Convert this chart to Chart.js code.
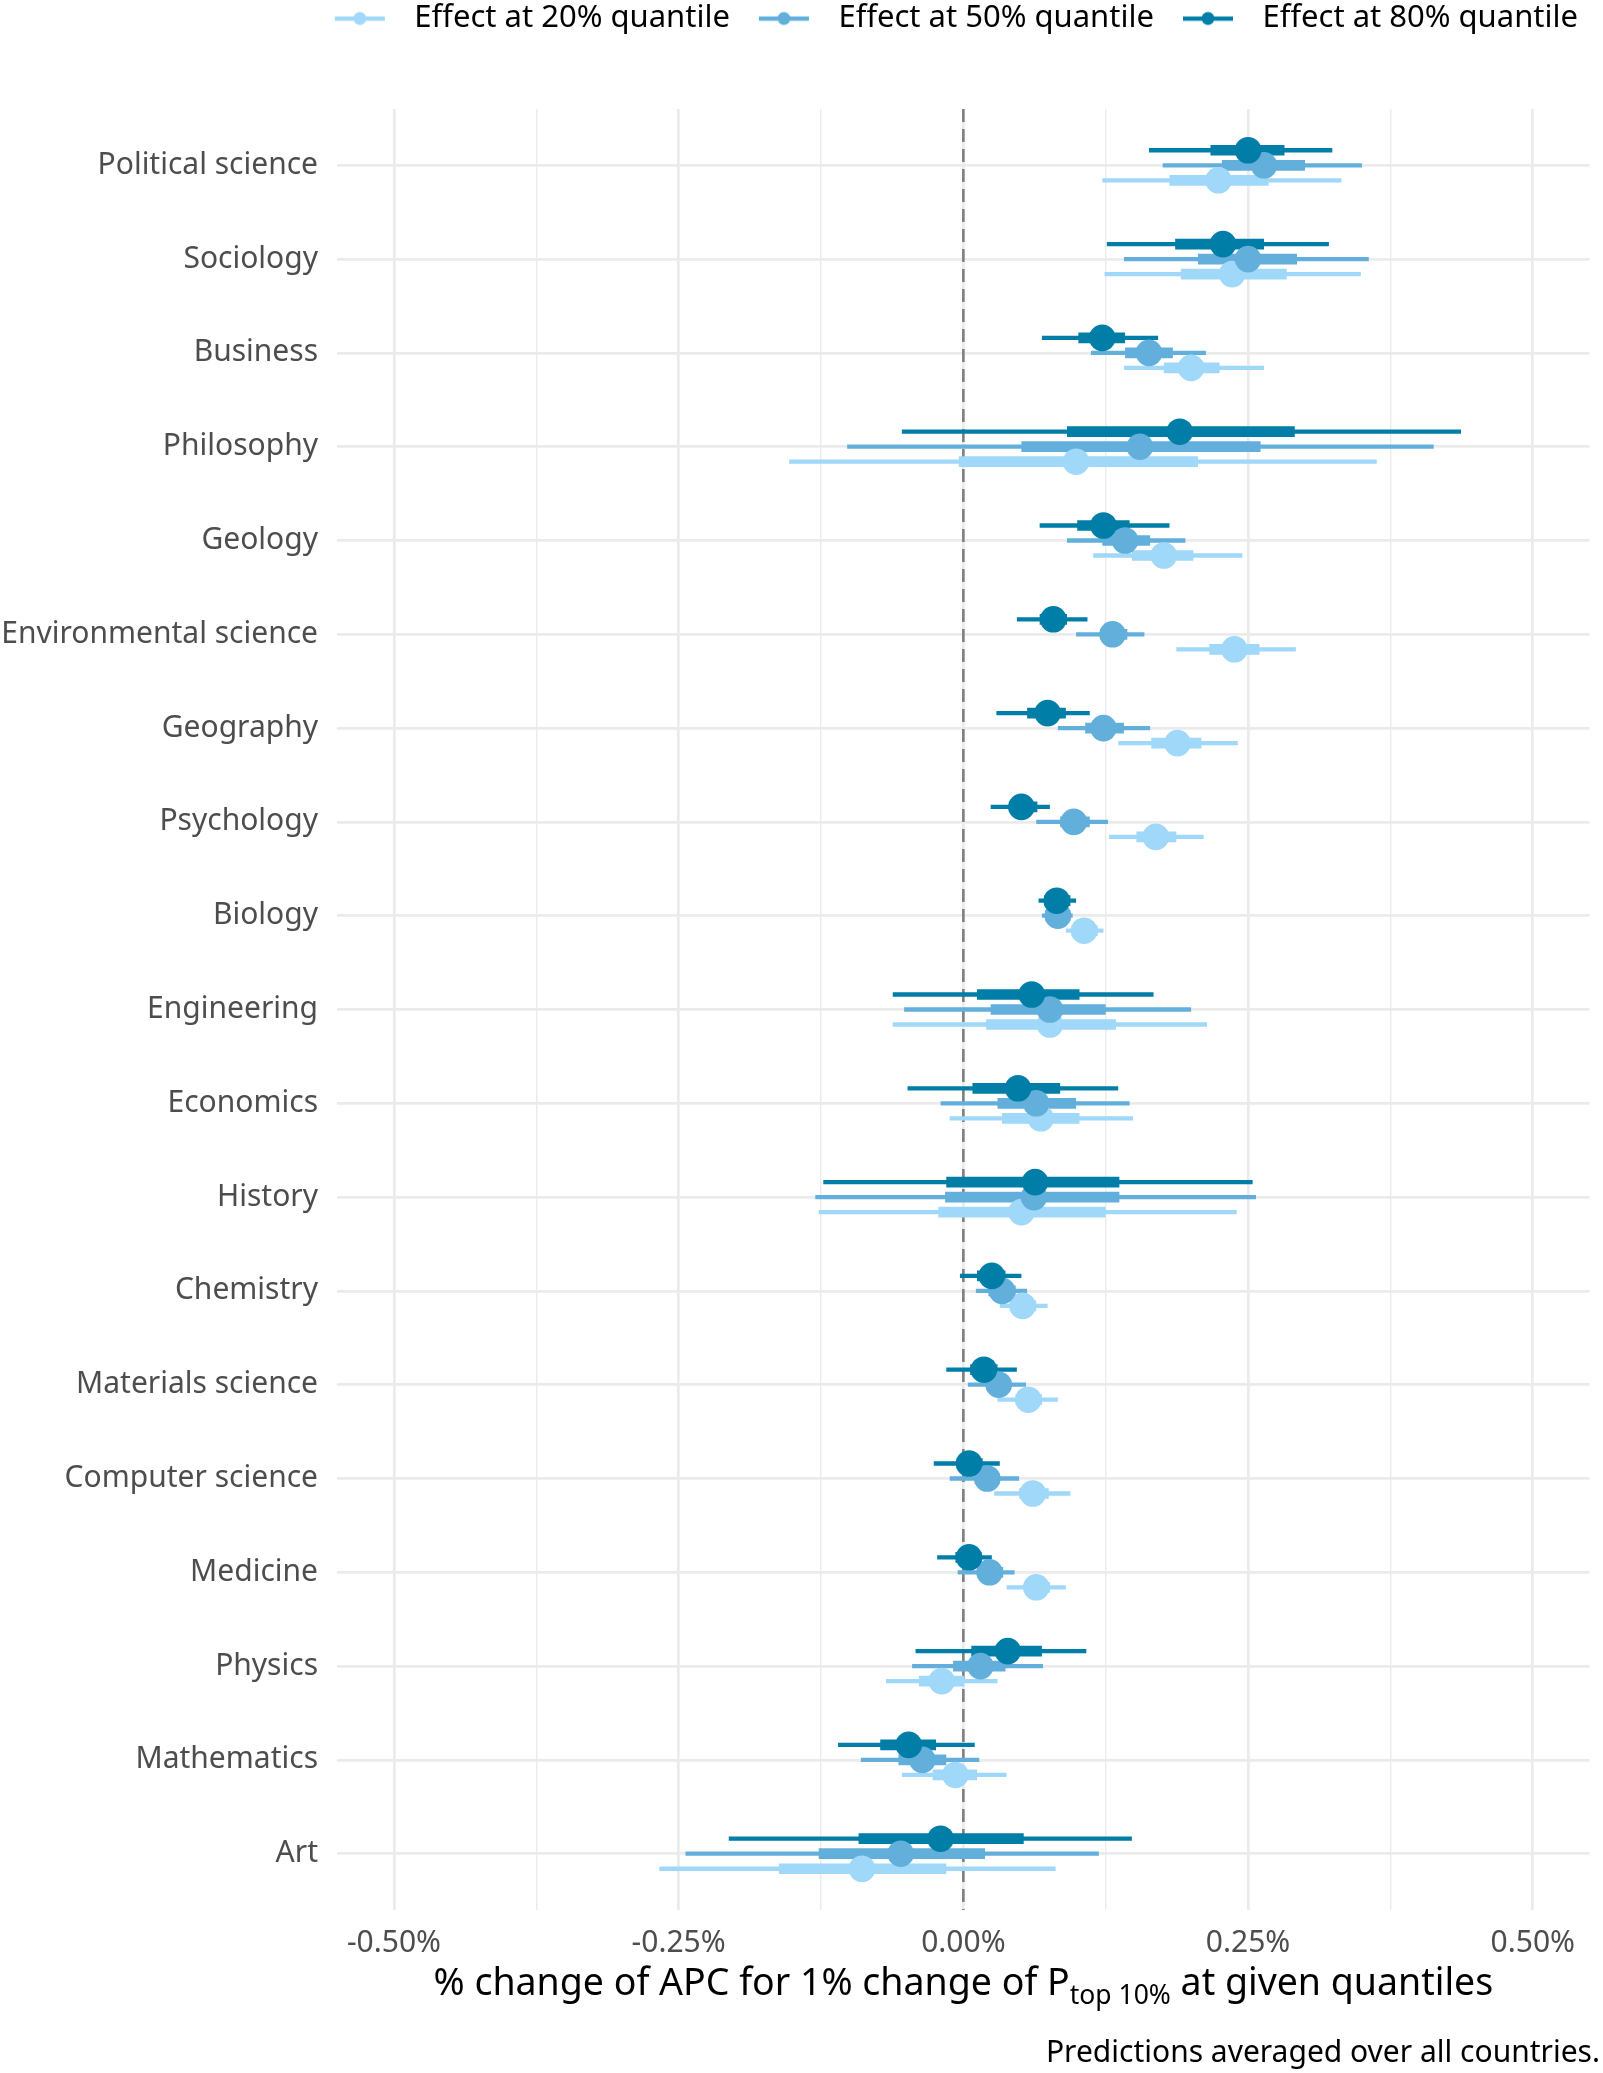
<!DOCTYPE html>
<html><head><meta charset="utf-8">
<script src="https://cdn.jsdelivr.net/npm/chart.js@4/dist/chart.umd.min.js"></script>
<style>html,body{margin:0;padding:0;background:#fff;} canvas{display:block;}</style>
</head><body>
<canvas id="c" width="1603" height="2073"></canvas>
<script>
// ---------------- DATA ----------------
const categories = ['Political science','Sociology','Business','Philosophy','Geology','Environmental science','Geography','Psychology','Biology','Engineering','Economics','History','Chemistry','Materials science','Computer science','Medicine','Physics','Mathematics','Art'];
const seriesNames = ['Effect at 20% quantile','Effect at 50% quantile','Effect at 80% quantile'];
const xTickValues = [-0.5, -0.25, 0, 0.25, 0.5];

// 80% quantile
const est80      = [0.250, 0.228, 0.122, 0.190, 0.123, 0.079, 0.074, 0.051, 0.082, 0.060, 0.048, 0.063, 0.025, 0.018, 0.005, 0.005, 0.039, -0.048, -0.020];
const thinLo80   = [0.163, 0.126, 0.069, -0.054, 0.067, 0.047, 0.029, 0.024, 0.066, -0.062, -0.049, -0.123, -0.003, -0.015, -0.026, -0.023, -0.042, -0.110, -0.206];
const thinHi80   = [0.324, 0.321, 0.171, 0.437, 0.181, 0.109, 0.111, 0.076, 0.099, 0.167, 0.136, 0.254, 0.051, 0.047, 0.032, 0.025, 0.108, 0.010, 0.148];
const thickLo80  = [0.217, 0.186, 0.101, 0.091, 0.100, 0.067, 0.056, 0.040, 0.071, 0.012, 0.008, -0.015, 0.012, 0.006, -0.006, -0.007, 0.007, -0.073, -0.092];
const thickHi80  = [0.282, 0.264, 0.142, 0.291, 0.146, 0.091, 0.090, 0.065, 0.094, 0.102, 0.085, 0.137, 0.037, 0.030, 0.017, 0.016, 0.069, -0.024, 0.053];
// 50% quantile
const est50      = [0.264, 0.250, 0.163, 0.155, 0.142, 0.131, 0.123, 0.097, 0.083, 0.076, 0.064, 0.062, 0.034, 0.031, 0.021, 0.023, 0.015, -0.036, -0.055];
const thinLo50   = [0.175, 0.141, 0.112, -0.102, 0.091, 0.099, 0.083, 0.064, 0.069, -0.052, -0.020, -0.130, 0.011, 0.004, -0.012, -0.005, -0.045, -0.090, -0.244];
const thinHi50   = [0.350, 0.356, 0.213, 0.413, 0.195, 0.159, 0.164, 0.127, 0.096, 0.200, 0.146, 0.257, 0.056, 0.055, 0.049, 0.045, 0.070, 0.014, 0.119];
const thickLo50  = [0.227, 0.206, 0.142, 0.051, 0.122, 0.120, 0.107, 0.085, 0.072, 0.024, 0.030, -0.016, 0.022, 0.020, 0.010, 0.012, -0.009, -0.057, -0.127];
const thickHi50  = [0.300, 0.293, 0.184, 0.261, 0.164, 0.144, 0.141, 0.111, 0.094, 0.125, 0.099, 0.137, 0.046, 0.042, 0.032, 0.035, 0.037, -0.015, 0.019];
// 20% quantile
const est20      = [0.224, 0.236, 0.200, 0.099, 0.176, 0.238, 0.188, 0.169, 0.106, 0.076, 0.068, 0.051, 0.052, 0.057, 0.061, 0.064, -0.019, -0.007, -0.089];
const thinLo20   = [0.122, 0.124, 0.141, -0.153, 0.114, 0.187, 0.136, 0.128, 0.090, -0.062, -0.012, -0.127, 0.032, 0.030, 0.027, 0.038, -0.068, -0.054, -0.267];
const thinHi20   = [0.332, 0.349, 0.264, 0.363, 0.245, 0.292, 0.241, 0.211, 0.123, 0.214, 0.149, 0.240, 0.074, 0.083, 0.094, 0.090, 0.030, 0.038, 0.081];
const thickLo20  = [0.181, 0.191, 0.176, -0.004, 0.148, 0.216, 0.165, 0.152, 0.095, 0.020, 0.034, -0.022, 0.041, 0.046, 0.049, 0.054, -0.039, -0.027, -0.162];
const thickHi20  = [0.268, 0.284, 0.225, 0.206, 0.202, 0.260, 0.209, 0.187, 0.118, 0.134, 0.102, 0.125, 0.064, 0.069, 0.075, 0.076, 0.001, 0.012, -0.015];

// ---------------- STYLE ----------------
const FONT = "'Noto Sans', 'Open Sans', sans-serif";
const col20 = '#a0d8fa', col50 = '#63afdc', col80 = '#007ea7';
const off20 = 0.16, off50 = 0, off80 = -0.16;

function segData(lo, hi, off) {
  const out = [];
  categories.forEach((c, i) => { out.push({x: lo[i], y: i + off}, {x: hi[i], y: i + off}, {x: null, y: null}); });
  return out;
}
function ptData(est, off) { return categories.map((c, i) => ({x: est[i], y: i + off})); }
function lineDs(data, color, width, order) {
  return {type: 'scatter', data, showLine: true, spanGaps: false, borderColor: color, borderWidth: width,
          borderCapStyle: 'butt', pointRadius: 0, pointHoverRadius: 0, order};
}
function ptDs(label, data, color, order, rank) {
  return {type: 'scatter', label, data, backgroundColor: color, borderColor: color, borderWidth: 0,
          pointRadius: 13.3, pointHoverRadius: 13.3, order, inLegend: rank};
}
function legendSymbol(color) {
  const cv = document.createElement('canvas'); cv.width = 90; cv.height = 16;
  const g = cv.getContext('2d');
  g.fillStyle = color; g.fillRect(26, 6, 50, 4.3);
  g.beginPath(); g.arc(51, 8, 6.5, 0, Math.PI * 2); g.fill();
  return cv;
}
const symbols = [legendSymbol(col20), legendSymbol(col50), legendSymbol(col80)];

const datasets = [
  {type: 'scatter', data: [{x: 0, y: -0.6}, {x: 0, y: 18.6}], showLine: true, borderColor: '#7f7f7f', borderWidth: 2.6,
   borderDash: [13, 7], pointRadius: 0, order: 100},
  lineDs(segData(thinLo20, thinHi20, off20), col20, 4.3, 60),
  lineDs(segData(thinLo50, thinHi50, off50), col50, 4.3, 59),
  lineDs(segData(thinLo80, thinHi80, off80), col80, 4.3, 58),
  lineDs(segData(thickLo20, thickHi20, off20), col20, 10.7, 50),
  lineDs(segData(thickLo50, thickHi50, off50), col50, 10.7, 49),
  lineDs(segData(thickLo80, thickHi80, off80), col80, 10.7, 48),
  ptDs(seriesNames[0], ptData(est20, off20), col20, 40, 1),
  ptDs(seriesNames[1], ptData(est50, off50), col50, 39, 2),
  ptDs(seriesNames[2], ptData(est80, off80), col80, 38, 3),
];

const isMajor = v => Math.abs(v / 0.25 - Math.round(v / 0.25)) < 1e-6;

const layoutPlugin = {
  id: 'layoutFix',
  beforeLayout(chart) {
    const lg = chart.legend;
    if (lg && !lg._patched) {
      const f = lg.fit;
      lg.fit = function () { f.call(this); this.height = 109; };
      const d = lg.draw;
      lg.draw = function () { this.ctx.save(); this.ctx.translate(-19, 0); d.call(this); this.ctx.restore(); };
      lg._patched = true;
    }
  },
  afterDraw(chart) {
    const ctx = chart.ctx, ca = chart.chartArea;
    const big = "37.5px " + FONT, small = "26.5px " + FONT;
    const parts = [['% change of APC for 1% change of P', big, 0], ['top 10%', small, 9], [' at given quantiles', big, 0]];
    ctx.save();
    let total = 0;
    parts.forEach(p => { ctx.font = p[1]; p.w = ctx.measureText(p[0]).width; total += p.w; });
    let x = (ca.left + ca.right) / 2 - total / 2;
    const base = 1995;
    ctx.fillStyle = '#000'; ctx.textBaseline = 'alphabetic'; ctx.textAlign = 'left';
    parts.forEach(p => { ctx.font = p[1]; ctx.fillText(p[0], x, base + p[2]); x += p.w; });
    ctx.restore();
  }
};

new Chart(document.getElementById('c'), {
  type: 'scatter',
  data: {datasets},
  options: {
    responsive: false, animation: false, devicePixelRatio: 1, events: [],
    layout: {padding: {left: 0, right: 3, top: 0, bottom: 0}},
    scales: {
      x: {
        type: 'linear', min: -0.55, max: 0.55,
        afterFit: s => { s.height = 125; },
        grid: {color: '#ebebeb', lineWidth: c => isMajor(c.tick.value) ? 2.7 : 1.4, drawTicks: false},
        border: {display: false},
        ticks: {
          stepSize: 0.125, includeBounds: false, autoSkip: false, maxRotation: 0, padding: 15,
          color: '#4d4d4d', font: {family: FONT, size: 30},
          callback: v => (isMajor(v) && xTickValues.some(t => Math.abs(t - v) < 1e-6)) ? v.toFixed(2) + '%' : ''
        }
      },
      y: {
        type: 'linear', reverse: true, min: -0.6, max: 18.6,
        afterFit: s => { s.width = 337; },
        grid: {color: '#ebebeb', lineWidth: 2.7, drawTicks: false},
        border: {display: false},
        ticks: {
          stepSize: 1, includeBounds: false, autoSkip: false, padding: 19,
          color: '#4d4d4d', font: {family: FONT, size: 30},
          callback: v => categories[v] !== undefined ? categories[v] : ''
        }
      }
    },
    plugins: {
      tooltip: {enabled: false},
      legend: {
        display: true, position: 'top', align: 'end',
        labels: {
          usePointStyle: true, pointStyleWidth: 90, padding: 3, color: '#000',
          font: {family: FONT, size: 31},
          generateLabels: chart => {
            const items = Chart.defaults.plugins.legend.labels.generateLabels(chart);
            items.forEach(it => {
              const r = chart.data.datasets[it.datasetIndex].inLegend;
              if (r) it.pointStyle = symbols[r - 1];
            });
            return items;
          },
          filter: (it, data) => !!data.datasets[it.datasetIndex].inLegend,
          sort: (a, b, data) => data.datasets[a.datasetIndex].inLegend - data.datasets[b.datasetIndex].inLegend
        }
      },
      title: {
        display: true, position: 'bottom', align: 'end',
        text: 'Predictions averaged over all countries.',
        color: '#000', font: {family: FONT, size: 30, weight: 'normal'},
        padding: {top: 0, bottom: 2}
      }
    }
  },
  plugins: [layoutPlugin]
});
</script>
</body></html>
